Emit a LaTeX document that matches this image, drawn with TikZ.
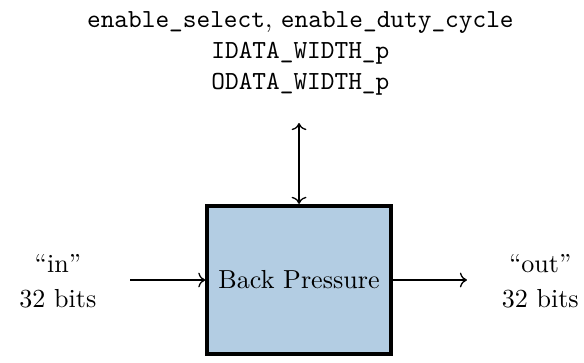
\documentclass[tikz,border=0pt]{standalone}
\usetikzlibrary{arrows.meta}
\definecolor{boxfill}{RGB}{179,205,227}
\begin{document}
\begin{tikzpicture}[x=1pt,y=1pt,
  blockbox/.style={draw=black, line width=1.4pt, fill=boxfill, minimum width=70.5pt, minimum height=57pt, inner sep=0pt},
  conn/.style={-To, line width=0.5pt},
  lbl/.style={align=center, inner sep=0pt}]
\useasboundingbox (0,0) rectangle (224,-139);
\node[blockbox] (bp) at (114.7,-107.4) {Back Pressure};
\node[lbl] (params) at (115.2,-20.5) {\texttt{enable\_select}, \texttt{enable\_duty\_cycle}\\ \texttt{IDATA\_WIDTH\_p}\\ \texttt{ODATA\_WIDTH\_p}};
\coordinate (ptop) at (114.7,-47.2);
\coordinate (inl) at (49.9,-107.4);
\coordinate (outr) at (179.1,-107.4);
\node[lbl] (intxt) at (22.2,-107.8) {``in''\\[1.4pt] 32 bits};
\node[lbl] (outtxt) at (207.2,-107.8) {``out''\\[1.4pt] 32 bits};
\draw[conn, To-To] (ptop) -- (bp.north);
\draw[conn] (inl) -- (bp.west);
\draw[conn] (bp.east) -- (outr);
\end{tikzpicture}
\end{document}
